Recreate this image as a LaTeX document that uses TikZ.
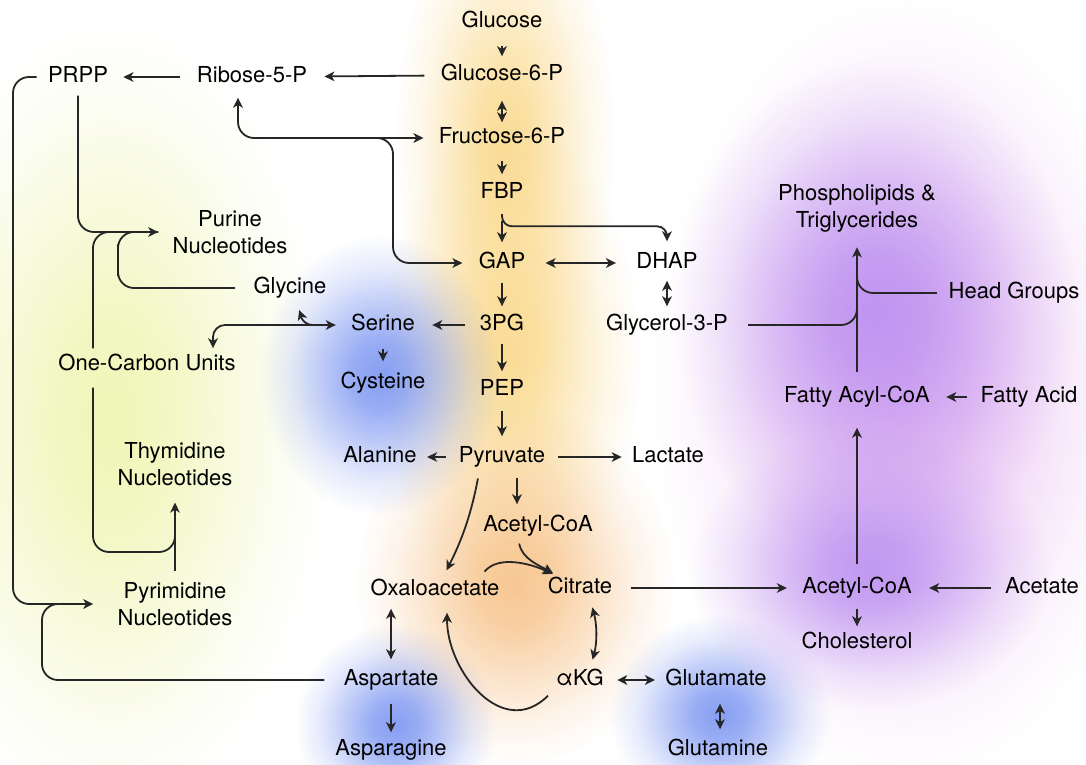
\documentclass[tikz,border=0pt]{standalone}
\usepackage{fontspec}
\setmainfont{TeX Gyre Heros}
\usetikzlibrary{arrows.meta,fadings}

\definecolor{glyco}{RGB}{250,212,125}
\definecolor{tca}{RGB}{246,186,120}
\definecolor{nucl}{RGB}{236,244,165}
\definecolor{amino}{RGB}{105,135,240}
\definecolor{lipid}{RGB}{180,135,240}
\definecolor{lipidpink}{RGB}{230,178,240}

\pgfdeclareradialshading{blobshade}{\pgfpointorigin}{color(0bp)=(transparent!0); color(6bp)=(transparent!15); color(13bp)=(transparent!50); color(19bp)=(transparent!80); color(25bp)=(transparent!100); color(50bp)=(transparent!100)}
\pgfdeclarefading{blobfade}{\pgfuseshading{blobshade}}

\tikzset{
  met/.style={font=\fontsize{11}{13.5}\selectfont, inner sep=0pt, text height=8pt, text depth=2.3pt},
  mettwo/.style={font=\fontsize{11}{13.5}\selectfont, inner sep=0pt, align=center},
  line/.style={line width=0.9pt, black!85},
  arr/.style={line, -{Stealth[length=5pt,width=4.8pt,inset=1.4pt]}},
  dbl/.style={line, {Stealth[length=5pt,width=4.8pt,inset=1.4pt]}-{Stealth[length=5pt,width=4.8pt,inset=1.4pt]}},
  blob/.style={path fading=blobfade, fill opacity=.8}
}

\begin{document}
\begin{tikzpicture}[x=0.5pt, y=-0.5pt]
  \useasboundingbox (0,0) rectangle (1086,765);
  \fill[white] (0,0) rectangle (1086,765);

  % coloured glows
  \fill[nucl, blob] (110,420) ellipse [x radius=110pt, y radius=200pt];
  \fill[glyco, blob] (505,140) ellipse [x radius=55pt, y radius=125pt];
  \fill[glyco, blob] (510,360) ellipse [x radius=65pt, y radius=120pt];
  \fill[tca, blob] (515,585) ellipse [x radius=80pt, y radius=90pt];
  \fill[amino, blob] (380,375) ellipse [x radius=60pt, y radius=70pt];
  \fill[amino, blob] (395,725) ellipse [x radius=50pt, y radius=50pt];
  \fill[amino, blob] (720,715) ellipse [x radius=55pt, y radius=50pt];
  \fill[lipidpink, blob] (905,390) ellipse [x radius=125pt, y radius=195pt];
  \fill[lipid, blob] (875,310) ellipse [x radius=100pt, y radius=125pt];
  \fill[lipid, blob] (870,570) ellipse [x radius=90pt, y radius=70pt];

  % glycolysis
  \node[met] (glc) at (502,22) {Glucose};
  \node[met] (g6p) at (502,75) {Glucose-6-P};
  \node[met] (f6p) at (502,138) {Fructose-6-P};
  \node[met] (fbp) at (502,193) {FBP};
  \node[met] (gap) at (502,263) {GAP};
  \node[met] (dhap) at (667,263) {DHAP};
  \node[met] (pg3) at (502,325) {3PG};
  \node[met] (g3p) at (667,325) {Glycerol-3-P};
  \node[met] (pep) at (502,390) {PEP};
  \node[met] (pyr) at (502,457) {Pyruvate};
  \node[met] (ala) at (380,457) {Alanine};
  \node[met] (lac) at (668,457) {Lactate};
  % TCA cycle
  \node[met] (acm) at (538,526) {Acetyl-CoA};
  \node[met] (oaa) at (435,590) {Oxaloacetate};
  \node[met] (cit) at (580,588) {Citrate};
  \node[met] (akg) at (580,680) {αKG};
  \node[met] (glu) at (716,680) {Glutamate};
  \node[met] (gln) at (718,750) {Glutamine};
  \node[met] (asp) at (391,680) {Aspartate};
  \node[met] (asn) at (391,750) {Asparagine};
  % nucleotides
  \node[met] (r5p) at (252,77) {Ribose-5-P};
  \node[met] (prpp) at (78,77) {PRPP};
  \node[mettwo] (pur) at (230,232) {Purine\\Nucleotides};
  \node[met] (gly) at (290,288) {Glycine};
  \node[met] (ser) at (383,325) {Serine};
  \node[met] (cys) at (383,383) {Cysteine};
  \node[met] (ocu) at (147,365) {One-Carbon Units};
  \node[mettwo] (thy) at (175,464) {Thymidine\\Nucleotides};
  \node[mettwo] (pym) at (175,604) {Pyrimidine\\Nucleotides};
  % lipids
  \node[met] (acc) at (857,588) {Acetyl-CoA};
  \node[met] (chol) at (857,643) {Cholesterol};
  \node[met] (acet) at (1042,588) {Acetate};
  \node[met] (faco) at (857,397) {Fatty Acyl-CoA};
  \node[met] (fa) at (1029,397) {Fatty Acid};
  \node[mettwo] (pl) at (857,208) {Phospholipids \&\\Triglycerides};
  \node[met] (hg) at (1014,293) {Head Groups};

  \coordinate (pppfork) at (377,138);
  \coordinate (pppbend) at (393,200);
  \coordinate (fbpfork) at (502,214);
  \coordinate (glybend) at (118,260);
  \coordinate (glyfork) at (313,325);
  \coordinate (outbend) at (13,340);
  \coordinate (aspbend) at (42,640);
  \coordinate (aspjoin) at ([xshift=-22pt]pym.west);
  \coordinate (thybend) at (175,552);
  \coordinate (thyjoin) at (175,525);
  \coordinate (lipjoin) at (857,300);
  \coordinate (hgjoin) at (857,268);

  % glycolysis arrows
  \draw[arr, shorten <=6.5pt, shorten >=4pt] (glc) -- (g6p);
  \draw[dbl, shorten <=7.5pt, shorten >=2.5pt] (g6p) -- (f6p);
  \draw[arr, shorten <=6pt, shorten >=4pt] (f6p) -- (fbp);
  \draw[arr, shorten <=8.5pt, shorten >=5pt] (fbp) -- (gap);
  \draw[arr, rounded corners=5pt, shorten >=5.5pt] (fbpfork) |- ([yshift=13pt]dhap.north) -- (dhap.north);
  \draw[dbl, shorten <=10pt, shorten >=10pt] (gap) -- (dhap);
  \draw[dbl, shorten <=3.5pt, shorten >=4pt] (dhap) -- (g3p);
  \draw[arr, shorten <=4.5pt, shorten >=4pt] (gap) -- (pg3);
  \draw[arr, shorten <=4pt, shorten >=4pt] (pg3) -- (pep);
  \draw[arr, shorten <=5pt, shorten >=5pt] (pep) -- (pyr);
  \draw[arr, shorten <=6.5pt, shorten >=5pt] (pyr) -- (ala);
  \draw[arr, shorten <=6.5pt, shorten >=5pt] (pyr) -- (lac);
  \draw[arr, shorten <=7.5pt, shorten >=8.5pt] (pg3) -- (ser);
  \draw[arr, shorten <=6.5pt, shorten >=5.5pt] (ser) -- (cys);

  % pentose phosphate and nucleotides
  \draw[arr, shorten <=8pt, shorten >=8.5pt] (g6p) -- (r5p);
  \draw[arr, shorten <=8.5pt, shorten >=7.5pt] (r5p) -- (prpp);
  \draw[dbl, rounded corners=8pt, shorten <=5pt, shorten >=7.5pt] ([xshift=-7pt]r5p.south) |- (f6p.west);
  \draw[arr, rounded corners=8pt, shorten >=8pt] (pppfork) -| (pppbend) |- (gap.west);
  \draw[arr, rounded corners=8pt, shorten <=4pt, shorten >=7pt] (prpp.south) |- (pur.west);
  \draw[line, rounded corners=8pt, shorten <=3pt, shorten >=7pt] ([xshift=-27pt]ocu.north) |- (pur.west);
  \draw[line, rounded corners=8pt, shorten <=9pt, shorten >=7pt] (gly.west) -| (glybend) |- (pur.west);
  \draw[dbl, rounded corners=6pt, shorten <=3pt, shorten >=7.5pt] ([xshift=33pt]ocu.north) |- (ser.west);
  \draw[arr, shorten >=6pt] (glyfork) to[out=180, in=-70] ([xshift=2.5pt]gly.south);
  \draw[line, rounded corners=8pt, shorten <=6pt] ([xshift=-27pt]ocu.south) |- (thybend) -- (thyjoin);
  \draw[arr, shorten <=5.25pt, shorten >=8.25pt] (pym.north) -- (thy.south);
  \draw[arr, rounded corners=8pt, shorten <=5.5pt, shorten >=12pt] (prpp.west) -| (outbend) |- (pym.west);
  \draw[line, rounded corners=8pt, shorten <=9.5pt] (asp.west) -| (aspbend) |- (aspjoin);

  % TCA cycle arrows
  \draw[arr, shorten <=5pt, shorten >=5.5pt] ([xshift=7.5pt]pyr.south) -- ([xshift=7.5pt]pyr.south |- acm.north);
  \draw[arr, shorten <=5.5pt, shorten >=5pt] ([xshift=-11pt]pyr.south) to[bend left=8] ([xshift=3.5pt]oaa.north);
  \draw[arr, shorten <=3.5pt, shorten >=4pt] ([xshift=-10pt]acm.south) to[out=-80, in=150] ([xshift=-10pt]cit.north);
  \draw[arr, shorten <=5pt, shorten >=4pt] ([xshift=21.5pt]oaa.north) to[out=50, in=155] ([xshift=-10pt]cit.north);
  \draw[dbl, shorten <=4.5pt, shorten >=5pt] ([xshift=5pt]cit.south) to[bend left=15] ([xshift=5pt]akg.north);
  \draw[arr, shorten <=3.5pt, shorten >=6pt] ([xshift=-13.5pt]akg.south) to[out=-135, in=-90, looseness=1.3] ([xshift=6pt]oaa.south);
  \draw[dbl, shorten <=4pt, shorten >=5pt] (oaa.south -| asp.north) -- (asp.north);
  \draw[arr, shorten <=6.5pt, shorten >=3.5pt] (asp) -- (asn);
  \draw[dbl, shorten <=6.5pt, shorten >=5pt] (akg) -- (glu);
  \draw[dbl, shorten <=6.5pt, shorten >=5pt] ([xshift=2pt]glu.south) -- ([xshift=1pt]gln.north);

  % lipid arrows
  \draw[arr, shorten <=9pt, shorten >=7.5pt] (cit) -- (acc);
  \draw[arr, shorten <=7pt, shorten >=8.5pt] (acet) -- (acc);
  \draw[arr, shorten <=5pt, shorten >=3pt] (acc) -- (chol);
  \draw[arr, shorten <=6.5pt, shorten >=10pt] (acc) -- (faco);
  \draw[arr, shorten <=6.5pt, shorten >=8pt] (fa) -- (faco);
  \draw[arr, shorten <=7pt, shorten >=7.5pt] (faco) -- (pl);
  \draw[line, rounded corners=8pt, shorten <=10pt] (g3p.east) -| (lipjoin);
  \draw[line, rounded corners=8pt, shorten <=5.75pt] (hg.west) -| (hgjoin);
\end{tikzpicture}
\end{document}
